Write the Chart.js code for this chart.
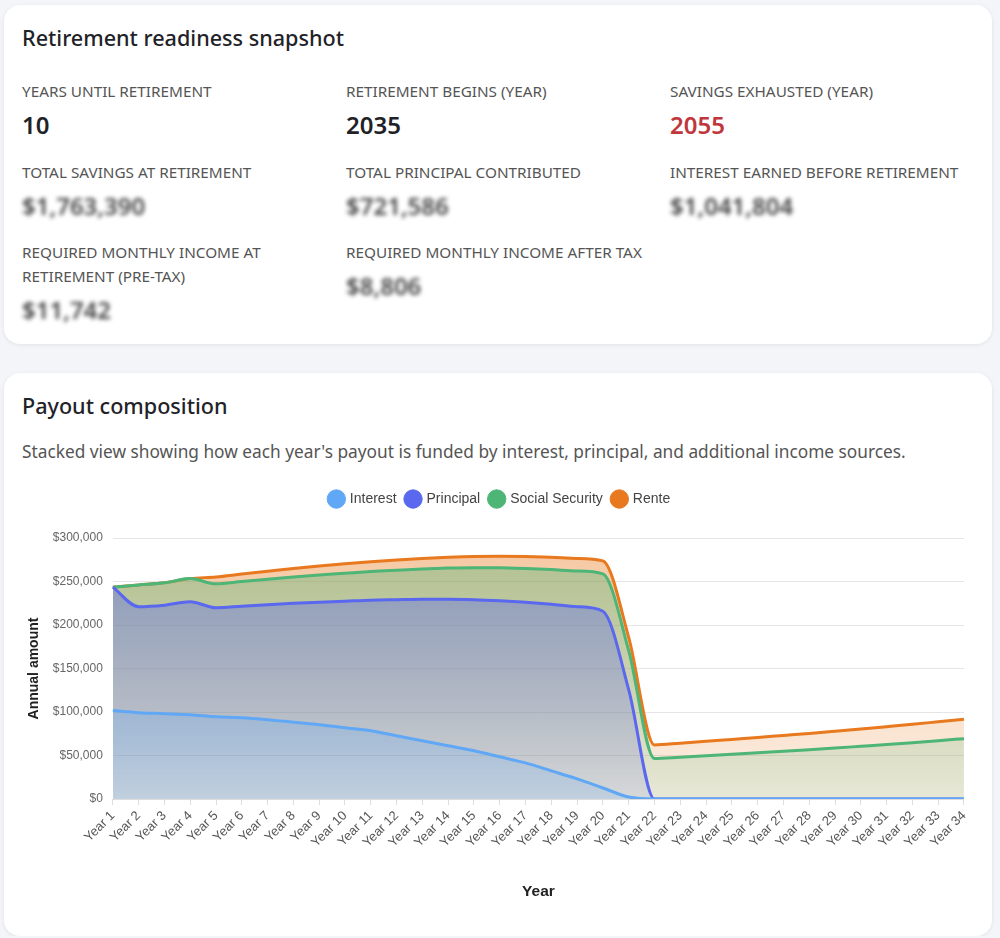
<!DOCTYPE html>
<html>
<head>
<meta charset="utf-8">
<title>Retirement readiness</title>
<script src="https://cdn.jsdelivr.net/npm/chart.js@4.4.1/dist/chart.umd.min.js"></script>
<style>
  body {
    margin: 0;
    padding: 5px 8px 0 4px;
    background: #f3f5f8;
    font-family: "Noto Sans", "Open Sans", sans-serif;
    color: #1f2328;
  }
  .card {
    background: #fff;
    border-radius: 16px;
    box-shadow: 0 1px 4px rgba(0,0,0,0.08);
    padding: 19px 18px 18px 18px;
    margin-bottom: 29px;
  }
  .card.chart-card { padding-bottom: 31px; margin-bottom: 0; }
  h2 {
    font-size: 21.6px;
    line-height: 28px;
    font-weight: 500;
    margin: 0 0 27px 0;
  }
  .chart-card h2 { margin-bottom: 19px; }
  .stats {
    display: grid;
    grid-template-columns: 324px 324px 324px;
    row-gap: 18.5px;
  }
  .label {
    font-size: 15.3px;
    line-height: 24px;
    color: #555;
    text-transform: uppercase;
  }
  .value {
    font-size: 24px;
    line-height: 32px;
    font-weight: 600;
    margin-top: 6px;
  }
  .value.red { color: #c0363c; }
  .blur { filter: blur(2px); color: #444; }
  .desc {
    font-size: 17.3px;
    line-height: 26px;
    color: #555;
    margin: 0;
  }
  .chart-box {
    position: relative;
    height: 423px;
    margin-top: 17px;
    margin-right: -4px;
  }
</style>
</head>
<body>
<div class="card">
  <h2>Retirement readiness snapshot</h2>
  <div class="stats">
    <div><div class="label">Years until retirement</div><div class="value">10</div></div>
    <div><div class="label">Retirement begins (year)</div><div class="value">2035</div></div>
    <div><div class="label">Savings exhausted (year)</div><div class="value red">2055</div></div>
    <div><div class="label">Total savings at retirement</div><div class="value blur">$1,763,390</div></div>
    <div><div class="label">Total principal contributed</div><div class="value blur">$721,586</div></div>
    <div><div class="label">Interest earned before retirement</div><div class="value blur">$1,041,804</div></div>
    <div><div class="label">Required monthly income at<br>retirement (pre-tax)</div><div class="value blur">$11,742</div></div>
    <div><div class="label">Required monthly income after tax</div><div class="value blur">$8,806</div></div>
  </div>
</div>

<div class="card chart-card">
  <h2>Payout composition</h2>
  <p class="desc">Stacked view showing how each year's payout is funded by interest, principal, and additional income sources.</p>
  <div class="chart-box"><canvas id="payoutChart"></canvas></div>
</div>

<script>
var years = ['Year 1', 'Year 2', 'Year 3', 'Year 4', 'Year 5', 'Year 6', 'Year 7', 'Year 8', 'Year 9', 'Year 10',
    'Year 11', 'Year 12', 'Year 13', 'Year 14', 'Year 15', 'Year 16', 'Year 17', 'Year 18', 'Year 19', 'Year 20',
    'Year 21', 'Year 22', 'Year 23', 'Year 24', 'Year 25', 'Year 26', 'Year 27', 'Year 28', 'Year 29', 'Year 30',
    'Year 31', 'Year 32', 'Year 33', 'Year 34'];

var interest = [101600, 99200, 98100, 96900, 94600, 93500, 91200, 88300, 85400, 81900,
    78500, 72700, 66900, 61200, 55400, 48500, 41500, 32300, 23100, 12700,
    2300, 0, 0, 0, 0, 0, 0, 0, 0, 0,
    0, 0, 0, 0];

var principal = [141900, 121800, 124600, 129900, 125200, 128100, 132100, 136700, 140800, 145400,
    150000, 156400, 162700, 168400, 173700, 179400, 184700, 191600, 197900, 203100,
    123500, 0, 0, 0, 0, 0, 0, 0, 0, 0,
    0, 0, 0, 0];

var socialSecurity = [0, 25000, 25800, 26600, 27500, 28400, 29400, 30300, 31300, 32200,
    33000, 33900, 34800, 35800, 36800, 37800, 38800, 39900, 41100, 43000,
    44800, 46600, 48100, 49700, 51400, 53100, 54900, 56700, 58600, 60600,
    62600, 64700, 67000, 69400];

var rente = [0, 0, 0, 0, 7900, 8600, 9100, 9600, 10200, 10800,
    11300, 11800, 12100, 12400, 12800, 13200, 13600, 14000, 14400, 14900,
    15200, 15600, 16100, 16600, 17100, 17600, 18200, 18700, 19300, 19900,
    20500, 21100, 21800, 22400];

// vertical gradient fill for each series
function fade(r, g, b, top, bottom) {
    return function(context) {
        var chart = context.chart;
        var area = chart.chartArea;
        if (!area) return 'rgba(' + r + ',' + g + ',' + b + ',0.3)';
        var grad = chart.ctx.createLinearGradient(0, area.top, 0, area.bottom);
        grad.addColorStop(0, 'rgba(' + r + ',' + g + ',' + b + ',' + top + ')');
        grad.addColorStop(1, 'rgba(' + r + ',' + g + ',' + b + ',' + bottom + ')');
        return grad;
    };
}

// extra room under the legend
var legendGap = {
    id: 'legendGap',
    beforeInit: function(chart) {
        var fit = chart.legend.fit;
        chart.legend.fit = function() {
            fit.bind(chart.legend)();
            this.height += 22;
        };
    }
};

Chart.defaults.font.family = '"Liberation Sans", Arial, sans-serif';

var ctx = document.getElementById('payoutChart').getContext('2d');
var payoutChart = new Chart(ctx, {
    type: 'line',
    data: {
        labels: years,
        datasets: [{
            label: 'Interest',
            data: interest,
            borderColor: '#60a8f6',
            backgroundColor: fade(96, 168, 246, 0.45, 0.18),
            fill: 'origin'
        }, {
            label: 'Principal',
            data: principal,
            borderColor: '#5a68ef',
            backgroundColor: fade(90, 104, 239, 0.48, 0.12),
            fill: 'origin'
        }, {
            label: 'Social Security',
            data: socialSecurity,
            borderColor: '#4db576',
            backgroundColor: fade(77, 181, 118, 0.42, 0.12),
            fill: 'origin'
        }, {
            label: 'Rente',
            data: rente,
            borderColor: '#e8791e',
            backgroundColor: fade(232, 121, 30, 0.42, 0.12),
            fill: 'origin'
        }]
    },
    plugins: [legendGap],
    options: {
        responsive: true,
        maintainAspectRatio: false,
        animation: false,
        elements: {
            line: { borderWidth: 3, cubicInterpolationMode: 'monotone' },
            point: { radius: 0, hoverRadius: 0 }
        },
        plugins: {
            legend: {
                labels: {
                    usePointStyle: true,
                    pointStyle: 'circle',
                    boxWidth: 13,
                    boxHeight: 13,
                    color: '#444',
                    font: { size: 14 },
                    padding: 10,
                    generateLabels: function(chart) {
                        var items = Chart.defaults.plugins.legend.labels.generateLabels(chart);
                        items.forEach(function(it) {
                            it.fillStyle = chart.data.datasets[it.datasetIndex].borderColor;
                        });
                        return items;
                    }
                }
            },
            tooltip: { enabled: false }
        },
        scales: {
            x: {
                grid: { drawOnChartArea: false, color: '#ddd', tickLength: 6 },
                border: { color: '#ddd' },
                ticks: { color: '#555', font: { size: 13 }, minRotation: 45, maxRotation: 45, autoSkip: false },
                title: { display: true, text: 'Year', color: '#222', font: { size: 15.5, weight: 'bold' }, padding: { top: 29 } }
            },
            y: {
                stacked: true,
                min: 0,
                max: 300000,
                grid: { color: '#e6e6e6', drawTicks: false },
                border: { display: false },
                ticks: {
                    stepSize: 50000,
                    padding: 10,
                    color: '#666',
                    font: { size: 12 },
                    callback: function(v) { return '$' + v.toLocaleString('en-US'); }
                },
                title: { display: true, text: 'Annual amount', color: '#222', font: { size: 14, weight: 'bold' }, padding: { top: 4, bottom: 0 } }
            }
        }
    }
});
</script>
</body>
</html>
